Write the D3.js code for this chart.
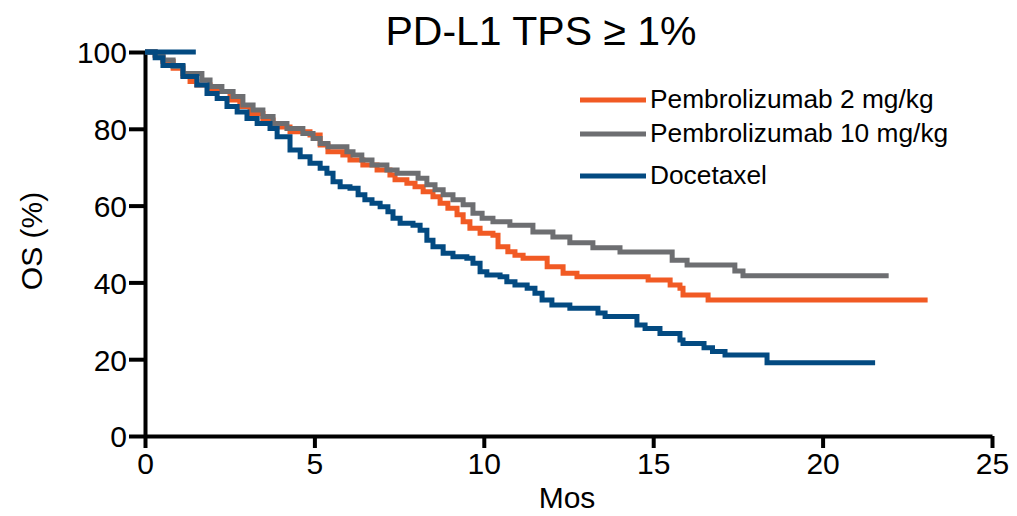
<!DOCTYPE html>
<html>
<head>
<meta charset="utf-8">
<script src="https://cdn.jsdelivr.net/npm/d3@7"></script>
<style>
  html, body { margin: 0; padding: 0; background: #fff; }
  svg { display: block; font-family: "Liberation Sans", Arial, sans-serif; }
</style>
</head>
<body>
<svg id="chart" width="1017" height="516"></svg>
<script>
// Kaplan-Meier overall survival, PD-L1 TPS >= 1%
// Each series: [month, OS %] at the start of each step.
const pembro2 = [
  [0, 100], [0.30, 99.0], [0.53, 97.5], [0.83, 95.8], [1.12, 93.8], [1.33, 92.3],
  [1.53, 91.4], [1.92, 89.7], [2.51, 87.5],
  [2.80, 85.8], [3.10, 84.0], [3.48, 82.3], [3.78, 80.5], [4.28, 79.2], [4.87, 78.4],
  [5.17, 75.8], [5.40, 74.0], [5.84, 73.2], [6.05, 71.9], [6.43, 70.6], [6.85, 69.3],
  [7.23, 68.0], [7.38, 66.7], [7.73, 65.8], [7.97, 64.9], [8.21, 63.6], [8.50, 62.3],
  [8.71, 60.6], [8.94, 59.3], [9.21, 57.6], [9.39, 55.8], [9.59, 54.1], [9.89, 52.8],
  [10.27, 52.3], [10.42, 49.3], [10.71, 48.0], [10.92, 47.1], [11.16, 46.3],
  [11.87, 44.1], [12.34, 42.4], [12.75, 41.5], [14.85, 40.6], [15.50, 39.3],
  [15.79, 38.5], [15.88, 36.7], [16.62, 35.4], [23.1, 35.4]
];
const pembro10 = [
  [0, 100], [0.30, 99.2], [0.53, 97.9], [0.83, 96.2], [1.12, 94.4], [1.68, 92.7],
  [1.92, 91.0], [2.27, 89.7], [2.60, 88.4], [2.89, 86.2], [3.19, 84.9], [3.48, 83.2],
  [3.78, 81.4], [4.19, 80.1], [4.66, 78.8], [4.96, 77.5], [5.17, 76.2], [5.40, 75.3],
  [5.96, 74.0], [6.14, 73.2], [6.40, 71.9], [6.70, 70.6], [7.14, 69.3], [7.44, 68.4],
  [8.06, 67.1], [8.32, 65.4], [8.56, 64.1], [8.80, 62.8], [9.09, 61.5], [9.39, 60.2],
  [9.68, 58.0], [9.95, 56.7], [10.27, 55.8], [10.77, 54.9], [11.45, 53.1],
  [12.04, 51.8], [12.54, 50.3], [13.22, 49.0], [14.02, 47.9], [15.56, 45.8],
  [16.00, 44.5], [17.41, 43.0], [17.65, 41.7], [21.95, 41.7]
];
const docetaxel = [
  [0, 100], [0.30, 98.5], [0.53, 96.5], [1.12, 93.6], [1.53, 91.4], [1.83, 89.2],
  [2.13, 87.9], [2.42, 85.8], [2.72, 84.4], [3.01, 82.7], [3.31, 81.4], [3.69, 80.1],
  [3.90, 77.9], [4.28, 74.5], [4.58, 72.7], [4.87, 71.0], [5.17, 69.7], [5.37, 68.4],
  [5.55, 66.2], [5.76, 64.9], [6.05, 64.5], [6.29, 62.8], [6.49, 61.5], [6.70, 60.6],
  [6.94, 59.7], [7.17, 58.4], [7.32, 56.7], [7.53, 55.4], [7.91, 54.9], [8.12, 53.6],
  [8.32, 51.0], [8.50, 49.3], [8.80, 47.6], [9.09, 46.7], [9.50, 46.3], [9.68, 45.0],
  [9.89, 42.8], [10.09, 41.9], [10.48, 41.5], [10.68, 40.2], [10.92, 39.3],
  [11.28, 38.5], [11.51, 37.2], [11.72, 35.4], [12.01, 34.1], [12.54, 33.3],
  [13.37, 32.0], [13.58, 31.1], [14.52, 28.9], [14.76, 28.0], [15.20, 26.7],
  [15.79, 25.0], [15.88, 24.1], [16.50, 23.0], [16.75, 22.0], [17.12, 21.1],
  [18.36, 19.1], [21.55, 19.1]
];
// short flat docetaxel stroke along the 100% line at the start
const docetaxelStart = [[0, 100], [1.5, 100]];

const xTicks = [0, 5, 10, 15, 20, 25];
const yTicks = [0, 20, 40, 60, 80, 100];
const seriesNames = ["Pembrolizumab 2 mg/kg", "Pembrolizumab 10 mg/kg", "Docetaxel"];
const seriesColors = ["#F15A24", "#6D6E71", "#034A81"];
const titleText = "PD-L1 TPS \u2265 1%";
const xLabel = "Mos";
const yLabel = "OS (%)";

const svg = d3.select("#chart");
const x = d3.scaleLinear().domain([0, 25]).range([145, 992]);
const y = d3.scaleLinear().domain([0, 100]).range([436, 52]);

// axes
const xAxis = d3.axisBottom(x).tickValues(xTicks).tickSize(12).tickSizeOuter(0).tickPadding(5);
const yAxis = d3.axisLeft(y).tickValues(yTicks).tickSize(16).tickSizeOuter(0).tickPadding(2);

const gx = svg.append("g").attr("transform", `translate(0,${y(0)})`).call(xAxis);
const gy = svg.append("g").attr("transform", `translate(${x(0)},0)`).call(yAxis);

[gx, gy].forEach(g => {
  g.selectAll("path.domain").attr("stroke", "#000").attr("stroke-width", 4);
  g.selectAll(".tick line").attr("stroke", "#000").attr("stroke-width", 4);
  g.selectAll(".tick text")
    .attr("fill", "#000")
    .style("font-size", "30px")
    .style("font-family", "'Liberation Sans', Arial, sans-serif");
});
gy.selectAll(".tick text").attr("dy", "0.36em");

// survival curves
const line = d3.line()
  .x(d => x(d[0]))
  .y(d => y(d[1]))
  .curve(d3.curveStepAfter);

const curves = [pembro2, pembro10, docetaxel];
const plot = svg.append("g");
plot.selectAll("path.km")
  .data(curves)
  .join("path")
  .attr("class", "km")
  .attr("fill", "none")
  .attr("stroke", (d, i) => seriesColors[i])
  .attr("stroke-width", 5)
  .attr("d", line);

plot.append("path")
  .attr("fill", "none")
  .attr("stroke", seriesColors[2])
  .attr("stroke-width", 5)
  .attr("d", d3.line().x(d => x(d[0])).y(d => y(d[1]))(docetaxelStart));

// title and axis labels
svg.append("text")
  .attr("x", 541).attr("y", 45)
  .attr("text-anchor", "middle")
  .style("font-size", "41px")
  .text(titleText);

svg.append("text")
  .attr("x", 567).attr("y", 508)
  .attr("text-anchor", "middle")
  .style("font-size", "30px")
  .text(xLabel);

svg.append("text")
  .attr("transform", `translate(42,${241}) rotate(-90)`)
  .attr("text-anchor", "middle")
  .style("font-size", "30px")
  .text(yLabel);

// legend
const legendY = [100, 134, 176];
const legend = svg.append("g");
seriesNames.forEach((name, i) => {
  legend.append("line")
    .attr("x1", 580).attr("x2", 646)
    .attr("y1", legendY[i]).attr("y2", legendY[i])
    .attr("stroke", seriesColors[i])
    .attr("stroke-width", 5);
  legend.append("text")
    .attr("x", 650).attr("y", legendY[i] + 8)
    .style("font-size", "26.3px")
    .text(name);
});
</script>
</body>
</html>
